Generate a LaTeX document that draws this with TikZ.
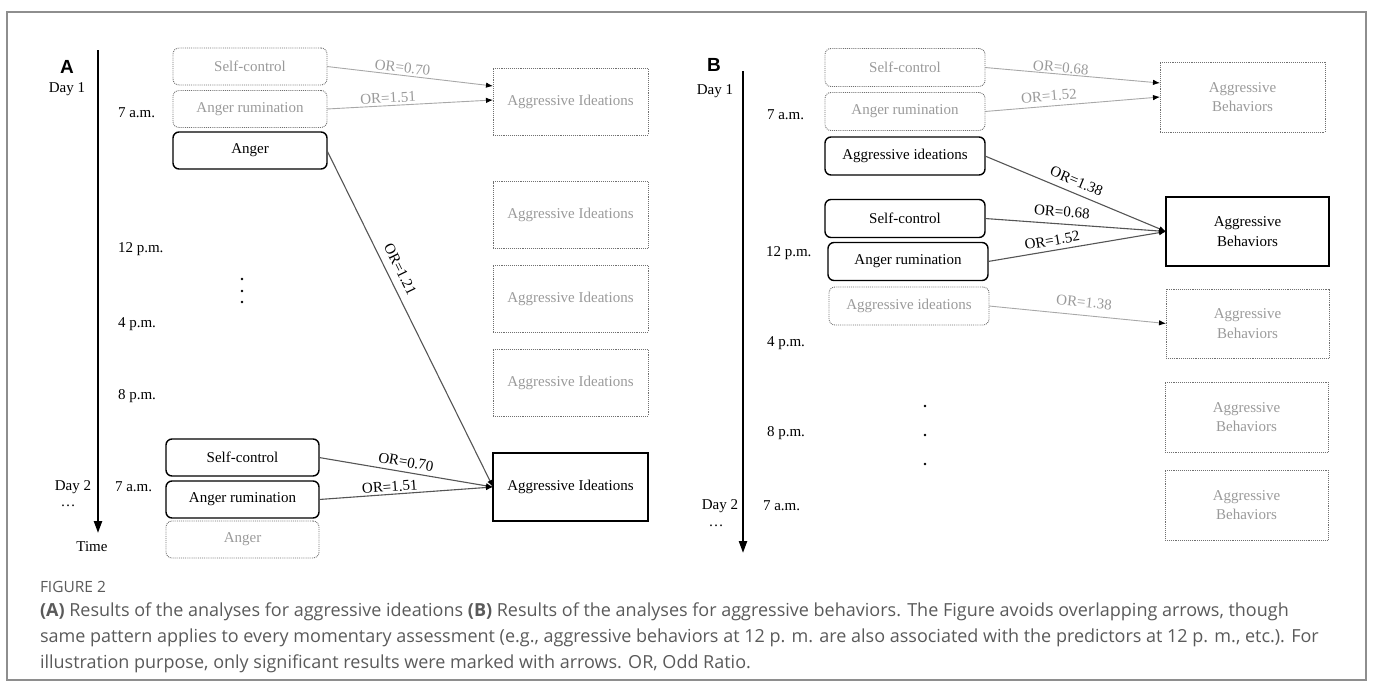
\documentclass[tikz,border=0pt]{standalone}
\usepackage{fontspec}
\setmainfont{Liberation Serif}
\newfontfamily\capfont{Open Sans}
\newfontfamily\panelfont{Liberation Sans}
\usetikzlibrary{arrows.meta}
\definecolor{dimtext}{HTML}{9A9A9A}
\definecolor{boxdot}{HTML}{707070}
\definecolor{lightline}{HTML}{A8A8A8}
\definecolor{darkline}{HTML}{555555}
\definecolor{framegray}{HTML}{8E8E8E}
\definecolor{captext}{HTML}{5A5A5A}
\begin{document}
\begin{tikzpicture}[x=1pt,y=-1pt,
  every node/.style={inner sep=0pt,outer sep=0pt},
  serif/.style={font=\fontsize{15}{19.5}\selectfont},
  tlabel/.style={serif,anchor=west},
  onbox/.style={draw=black,line width=1.4pt,rounded corners=6pt,serif,text=black,minimum height=37pt},
  offbox/.style={draw=boxdot,line width=0.9pt,densely dotted,rounded corners=6pt,serif,text=dimtext,minimum height=37pt},
  onout/.style={draw=black,line width=1.2pt,serif,align=center,text=black},
  offout/.style={draw=boxdot,line width=0.9pt,densely dotted,serif,text=dimtext,align=center},
  offarr/.style={draw=lightline,line width=0.9pt,-{Latex[length=7pt,width=5.5pt,color=black]}},
  onarr/.style={draw=darkline,line width=1.1pt,-{Latex[length=7pt,width=5.5pt,color=black]}},
  offlab/.style={serif,text=dimtext,sloped},
  onlab/.style={serif,text=black,sloped},
  timeline/.style={line width=2.2pt,-{Triangle[length=12pt,width=8pt]}},
  dotmark/.style={circle,fill=black,minimum size=2.8pt},
  panel/.style={font=\panelfont\bfseries\fontsize{19}{22}\selectfont},
  capline/.style={anchor=base west,font=\capfont\fontsize{18}{22}\selectfont,text=captext}
]
\useasboundingbox (0,0) rectangle (1373,688);
\draw[framegray,line width=1.3pt] (7,12) rectangle (1366,680);

% ---------------- Panel A ----------------
\node[panel] (lA) at (67,67) {A};
\node[serif] (dayA1) at (67,89) {Day 1};
\coordinate (tA1) at (98,50);
\coordinate (tA2) at (98,533);
\draw[timeline] (tA1) -- (tA2);
\node[tlabel] (a7) at (118,113) {7 a.m.};
\node[tlabel] (a12) at (118,249) {12 p.m.};
\node[tlabel] (a4) at (118,324) {4 p.m.};
\node[tlabel] (a8) at (118,396) {8 p.m.};
\node[serif] (dayA2) at (73,487) {Day 2};
\node[tlabel] (a7b) at (115,487) {7 a.m.};
\node[serif] (ellA) at (68,506) {\ldots};
\node[serif] (timeA) at (92,547) {Time};

\node[offbox,minimum width=154pt] (aSC1) at (250,66.5) {Self-control};
\node[offbox,minimum width=154pt] (aAR1) at (250,109) {Anger rumination};
\node[onbox,minimum width=154pt] (aAN1) at (250,150.5) {Anger};

\node[dotmark] (dA1) at (242,279) {};
\node[dotmark] (dA2) at (242,291) {};
\node[dotmark] (dA3) at (242,302) {};

\node[onbox,minimum width=153pt] (aSC2) at (242.5,457.5) {Self-control};
\node[onbox,minimum width=153pt] (aAR2) at (242.5,499.5) {Anger rumination};
\node[offbox,minimum width=153pt] (aAN2) at (242.5,539.5) {Anger};

\node[offout,minimum width=155pt,minimum height=67pt] (aI1) at (570.5,101.5) {Aggressive Ideations};
\node[offout,minimum width=155pt,minimum height=67pt] (aI2) at (570.5,215) {Aggressive Ideations};
\node[offout,minimum width=155pt,minimum height=67pt] (aI3) at (570.5,298.5) {Aggressive Ideations};
\node[offout,minimum width=155pt,minimum height=67pt] (aI4) at (570.5,382.5) {Aggressive Ideations};
\node[onout,minimum width=155pt,minimum height=68pt] (aI5) at (570.5,487) {Aggressive Ideations};

\draw[offarr] (aSC1.east) -- node[offlab,pos=0.45,above=2.5pt] (oA1) {OR=0.70} ([yshift=15.5pt]aI1.west);
\draw[offarr] (aAR1.east) -- node[offlab,pos=0.37,above=2.5pt] (oA2) {OR=1.51} ([yshift=1.5pt]aI1.west);
\draw[onarr] (aAN1.east) -- node[onlab,pos=0.37,above=8pt] (oA3) {OR=1.21} (aI5.west);
\draw[onarr] (aSC2.east) -- node[onlab,pos=0.49,above=5pt] (oA4) {OR=0.70} (aI5.west);
\draw[onarr] (aAR2.east) -- node[onlab,pos=0.41,above=2.5pt] (oA5) {OR=1.51} (aI5.west);

% ---------------- Panel B ----------------
\node[panel] (lB) at (714,65) {B};
\node[serif] (dayB1) at (715,91) {Day 1};
\coordinate (tB1) at (743,71);
\coordinate (tB2) at (743,553);
\draw[timeline] (tB1) -- (tB2);
\node[tlabel] (b7) at (767,115) {7 a.m.};
\node[tlabel] (b12) at (766,253) {12 p.m.};
\node[tlabel] (b4) at (767,343) {4 p.m.};
\node[tlabel] (b8) at (767,433) {8 p.m.};
\node[serif] (dayB2) at (720,506) {Day 2};
\node[tlabel] (b7b) at (763,506) {7 a.m.};
\node[serif] (ellB) at (716,526) {\ldots};

\node[offbox,minimum width=160pt,minimum height=38pt] (bSC1) at (905,67.5) {Self-control};
\node[offbox,minimum width=160pt,minimum height=38pt] (bAR1) at (905,111.5) {Anger rumination};
\node[onbox,minimum width=160pt,minimum height=38pt] (bAI1) at (905,156) {Aggressive ideations};
\node[onbox,minimum width=160pt,minimum height=38pt] (bSC2) at (905,218.5) {Self-control};
\node[onbox,minimum width=160pt,minimum height=38pt] (bAR2) at (908,261.5) {Anger rumination};
\node[offbox,minimum width=160pt,minimum height=38pt] (bAI2) at (909,306) {Aggressive ideations};

\node[dotmark] (dB1) at (925,406) {};
\node[dotmark] (dB2) at (925,435) {};
\node[dotmark] (dB3) at (925,464) {};

\node[offout,minimum width=165pt,minimum height=70pt] (bB1) at (1242.5,97) {Aggressive\\Behaviors};
\node[onout,minimum width=163pt,minimum height=69pt] (bB2) at (1247.5,231.5) {Aggressive\\Behaviors};
\node[offout,minimum width=163pt,minimum height=69pt] (bB3) at (1247.5,323.5) {Aggressive\\Behaviors};
\node[offout,minimum width=163pt,minimum height=70pt] (bB4) at (1246.5,417) {Aggressive\\Behaviors};
\node[offout,minimum width=163pt,minimum height=70pt] (bB5) at (1246.5,505) {Aggressive\\Behaviors};

\draw[offarr] (bSC1.east) -- node[offlab,pos=0.43,above=1.5pt] (oB1) {OR=0.68} ([yshift=14pt]bB1.west);
\draw[offarr] (bAR1.east) -- node[offlab,pos=0.37,above=5pt] (oB2) {OR=1.52} (bB1.west);
\draw[onarr] (bAI1.east) -- node[onlab,pos=0.48,above=7pt] (oB3) {OR=1.38} (bB2.west);
\draw[onarr] (bSC2.east) -- node[onlab,pos=0.42,above=7pt] (oB4) {OR=0.68} (bB2.west);
\draw[onarr] (bAR2.east) -- node[onlab,pos=0.37,above=5pt] (oB5) {OR=1.52} (bB2.west);
\draw[offarr] (bAI2.east) -- node[offlab,pos=0.53,above=8pt] (oB6) {OR=1.38} (bB3.west);

% ---------------- Caption ----------------
\node[anchor=base west,font=\capfont\fontsize{15.5}{18}\selectfont,text=captext] (figlab) at (40,592) {FIGURE 2};
\node[capline] (cap1) at (40,616) {\textbf{(A)} Results of the analyses for aggressive ideations \textbf{(B)} Results of the analyses for aggressive behaviors. The Figure avoids overlapping arrows, though};
\node[capline] (cap2) at (40,642) {same pattern applies to every momentary assessment (e.g., aggressive behaviors at 12 p. m. are also associated with the predictors at 12 p. m., etc.). For};
\node[capline] (cap3) at (40,668) {illustration purpose, only significant results were marked with arrows. OR, Odd Ratio.};
\end{tikzpicture}
\end{document}
